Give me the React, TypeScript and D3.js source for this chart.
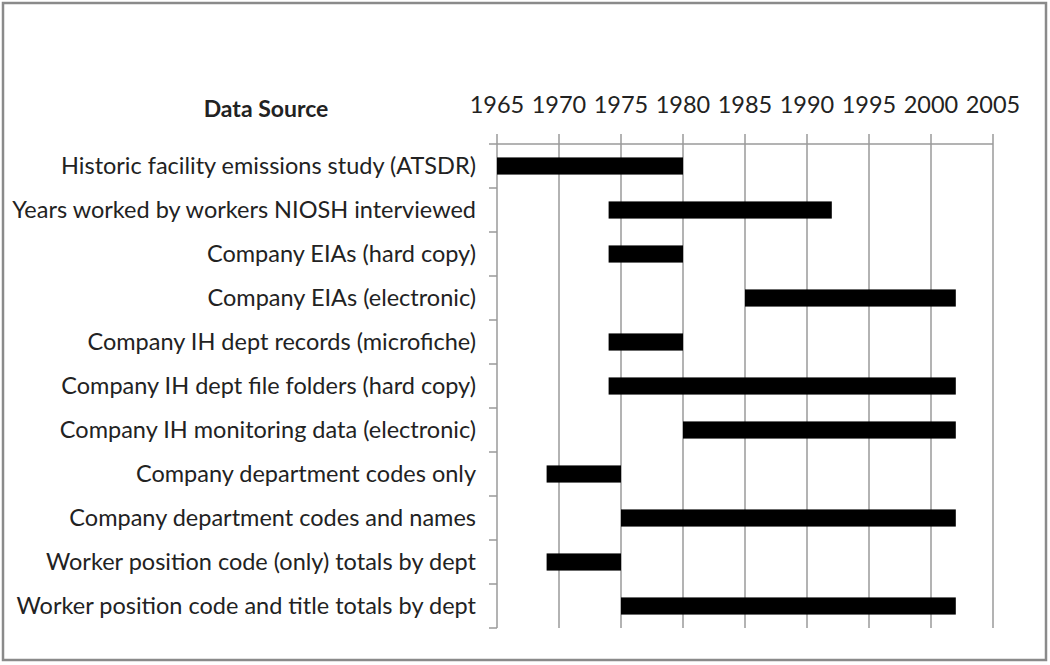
import * as d3 from "d3";

const sources = [
  "Historic facility emissions study (ATSDR)",
  "Years worked by workers NIOSH interviewed",
  "Company EIAs (hard copy)",
  "Company EIAs (electronic)",
  "Company IH dept records (microfiche)",
  "Company IH dept file folders (hard copy)",
  "Company IH monitoring data (electronic)",
  "Company department codes only",
  "Company department codes and names",
  "Worker position code (only) totals by dept",
  "Worker position code and title totals by dept",
];
const startYears = [1965, 1974, 1974, 1985, 1974, 1974, 1980, 1969, 1975, 1969, 1975];
const endYears = [1980, 1992, 1980, 2002, 1980, 2002, 2002, 1975, 2002, 1975, 2002];
const yearTicks = [1965, 1970, 1975, 1980, 1985, 1990, 1995, 2000, 2005];

const W = 1050;
const H = 665;
const top = 144;
const bottom = 628;
const left = 497;
const right = 993;
const font = "Lato, 'Open Sans', sans-serif";
const ink = "#222";

export default function App() {
  const x = d3.scaleLinear().domain([1965, 2005]).range([left, right]);
  const y = d3
    .scaleBand<string>()
    .domain(sources)
    .range([top, bottom])
    .paddingInner(0.61)
    .paddingOuter(0.305);
  const step = y.step();
  const seps = d3.range(sources.length + 1).map((i) => top + i * step);

  return (
    <svg
      width={W}
      height={H}
      style={{ position: "absolute", left: 0, top: 0, background: "#fff" }}
    >
      <rect x={3} y={3} width={W - 7} height={H - 8} fill="#fff" stroke="#8a8a8a" strokeWidth={2.5} />

      {/* vertical gridlines */}
      {yearTicks.map((t) => (
        <line key={t} x1={x(t)} x2={x(t)} y1={top - 10} y2={bottom} stroke="#9a9a9a" strokeWidth={1.5} />
      ))}
      {/* top axis line */}
      <line x1={left - 8} x2={right} y1={top} y2={top} stroke="#9a9a9a" strokeWidth={1.5} />
      {/* category separators */}
      {seps.slice(1).map((s, i) => (
        <line key={i} x1={left - 8} x2={left} y1={s} y2={s} stroke="#9a9a9a" strokeWidth={1.5} />
      ))}

      {/* year labels */}
      {yearTicks.map((t) => (
        <text key={t} x={x(t)} y={113} textAnchor="middle" fontFamily={font} fontSize={23.5} fill={ink}>
          {t}
        </text>
      ))}

      <text x={266} y={117} textAnchor="middle" fontFamily={font} fontSize={23} fontWeight="bold" fill={ink}>
        Data Source
      </text>

      {/* bars */}
      {sources.map((s, i) => (
        <rect
          key={s}
          x={x(startYears[i])}
          y={y(s)}
          width={x(endYears[i]) - x(startYears[i])}
          height={y.bandwidth()}
          fill="#000"
        />
      ))}

      {/* category labels */}
      {sources.map((s) => (
        <text
          key={s}
          x={476}
          y={(y(s) ?? 0) + y.bandwidth() / 2}
          dy="0.35em"
          textAnchor="end"
          fontFamily={font}
          fontSize={23.5}
          fill={ink}
        >
          {s}
        </text>
      ))}
    </svg>
  );
}
